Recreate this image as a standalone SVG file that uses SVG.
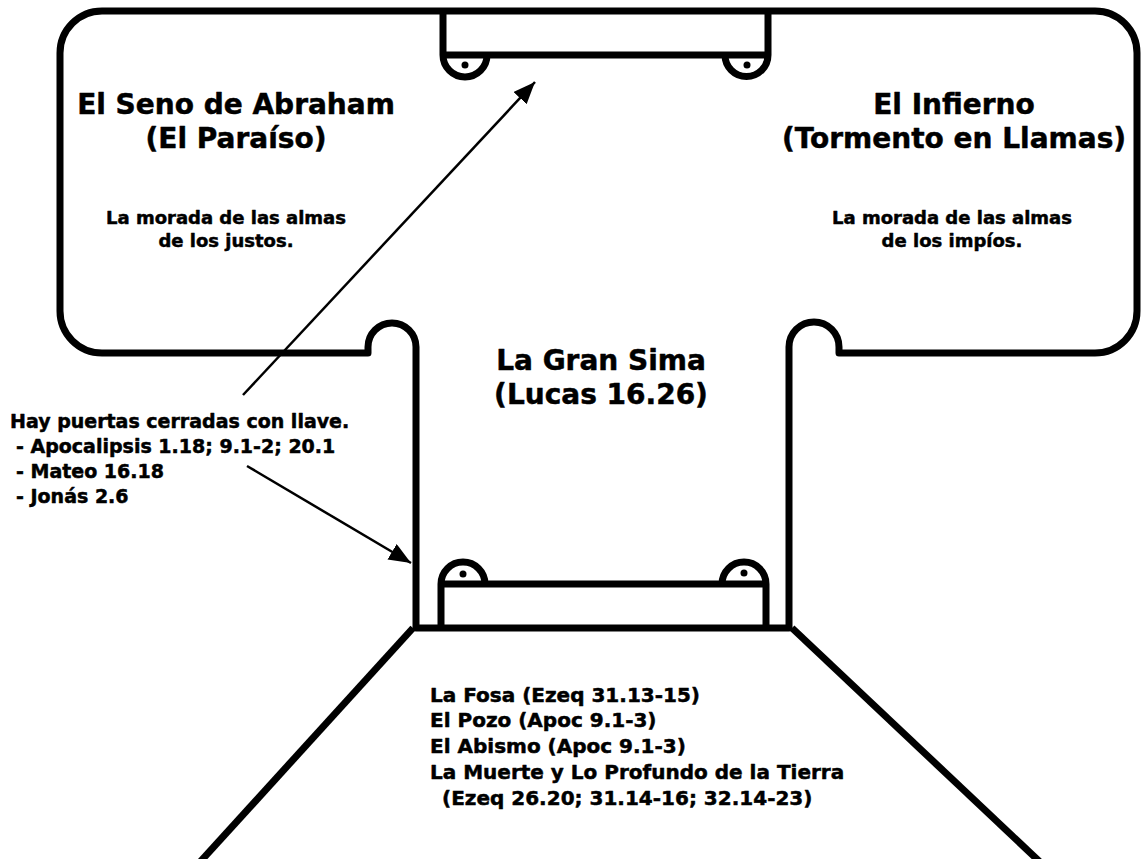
<svg xmlns="http://www.w3.org/2000/svg" width="1142" height="859" viewBox="0 0 1142 859">
<defs>
<style>
.ol{fill:none;stroke:#000;stroke-width:7;stroke-linejoin:round;stroke-linecap:butt}
.ar{fill:none;stroke:#000;stroke-width:2.5}
.t{font-family:"DejaVu Sans",Verdana,sans-serif;font-weight:bold;fill:#000;stroke:#000;stroke-width:0.5;stroke-linejoin:round}
.h{font-size:28px}
.s{font-size:18px}
.l{font-size:19px}
.b{font-size:20px}
.c{text-anchor:middle}
</style>
<marker id="ah" markerUnits="userSpaceOnUse" markerWidth="24" markerHeight="20" refX="22" refY="9" orient="auto">
<path d="M0,0 L22,9 L0,18 z" fill="#000"/>
</marker>
</defs>
<rect width="1142" height="859" fill="#fff"/>
<g id="outline">
<path class="ol" d="M60,53 A42,42 0 0 1 102,11 L1095,11 A42,42 0 0 1 1137,53 L1137,311 A42,42 0 0 1 1095,353 L839,353 L839,347 A25,25 0 0 0 789,347 L789,628 L416,628 L416,347 A24,24 0 0 0 368,347 L368,353 L102,353 A42,42 0 0 1 60,311 Z"/>
<path class="ol" d="M413,628 L200,862"/>
<path class="ol" d="M792,628 L1040,862"/>
</g>
<g id="top-gate">
<path class="ol" d="M443,11 L443,55 A22,22 0 0 0 487,55 M443,55 L768,55 L768,11 M768,55 A21.5,21.5 0 0 1 725,55"/>
<circle cx="465" cy="65" r="3.5"/>
<circle cx="747" cy="65" r="3.5"/>
</g>
<g id="bottom-gate">
<path class="ol" d="M441,628 L441,584 A22,22 0 0 1 485,584 M441,584 L766,584 L766,628 M766,584 A22,22 0 0 0 722,584"/>
<circle cx="463" cy="574" r="3.5"/>
<circle cx="744" cy="573" r="3.5"/>
</g>
<g id="seno">
<text class="t h c" x="236" y="114">El Seno de Abraham</text>
<text class="t h c" x="236" y="148">(El Paraíso)</text>
<text class="t s c" x="226" y="224">La morada de las almas</text>
<text class="t s c" x="226" y="247">de los justos.</text>
</g>
<g id="infierno">
<text class="t h c" x="954" y="114">El Infierno</text>
<text class="t h c" x="954" y="148">(Tormento en Llamas)</text>
<text class="t s c" x="952" y="224">La morada de las almas</text>
<text class="t s c" x="952" y="247">de los impíos.</text>
</g>
<g id="sima">
<text class="t h c" x="601" y="370">La Gran Sima</text>
<text class="t h c" x="601" y="404">(Lucas 16.26)</text>
</g>
<g id="puertas">
<text class="t l" x="10" y="428">Hay puertas cerradas con llave.</text>
<text class="t l" x="16" y="453">- Apocalipsis 1.18; 9.1-2; 20.1</text>
<text class="t l" x="16" y="478">- Mateo 16.18</text>
<text class="t l" x="16" y="503">- Jonás 2.6</text>
</g>
<g id="abismo">
<text class="t b" x="430" y="702">La Fosa (Ezeq 31.13-15)</text>
<text class="t b" x="430" y="727">El Pozo (Apoc 9.1-3)</text>
<text class="t b" x="430" y="753">El Abismo (Apoc 9.1-3)</text>
<text class="t b" x="430" y="779">La Muerte y Lo Profundo de la Tierra</text>
<text class="t b" x="442" y="805">(Ezeq 26.20; 31.14-16; 32.14-23)</text>
</g>
<g id="connectors">
<line class="ar" x1="243" y1="395" x2="535" y2="82" marker-end="url(#ah)"/>
<line class="ar" x1="247" y1="466" x2="411" y2="563" marker-end="url(#ah)"/>
</g>
</svg>
